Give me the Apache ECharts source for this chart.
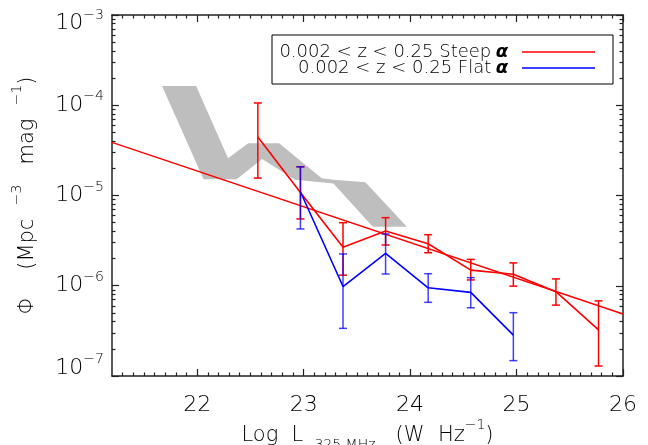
<!DOCTYPE html>
<html>
<head>
<meta charset="utf-8">
<script src="https://cdn.jsdelivr.net/npm/echarts@6/dist/echarts.min.js"></script>
<style>
html,body{margin:0;padding:0;background:#fff;}
#chart{width:648px;height:445px;}
</style>
</head>
<body>
<div id="chart"></div>
<script>
// ---- data ----
const steepName = '0.002 < z < 0.25 Steep α';
const flatName = '0.002 < z < 0.25 Flat α';
const legendText = ['0.002 < z < 0.25 Steep ', '0.002 < z < 0.25 Flat '];

const steepX  = [22.57, 22.97, 23.37, 23.77, 24.17, 24.57, 24.97, 25.37, 25.77];
const steepY  = [4.45e-5, 1.08e-5, 2.67e-6, 4.05e-6, 2.92e-6, 1.49e-6, 1.34e-6, 8.6e-7, 3.24e-7];
const steepHi = [1.06e-4, 2.08e-5, 5.0e-6, 5.68e-6, 3.68e-6, 1.96e-6, 1.79e-6, 1.19e-6, 6.8e-7];
const steepLo = [1.56e-5, 5.5e-6, 1.31e-6, 2.83e-6, 2.32e-6, 1.16e-6, 9.9e-7, 6.1e-7, 1.29e-7];

const flatX  = [22.97, 23.37, 23.77, 24.17, 24.57, 24.97];
const flatY  = [1.1e-5, 9.8e-7, 2.29e-6, 9.5e-7, 8.45e-7, 2.84e-7];
const flatHi = [2.08e-5, 2.25e-6, 3.74e-6, 1.36e-6, 1.23e-6, 5.03e-7];
const flatLo = [4.26e-6, 3.37e-7, 1.35e-6, 6.55e-7, 5.7e-7, 1.48e-7];

const fitX = [21.2, 26];
const fitY = [3.87e-5, 4.86e-7];

const bandX = [21.67, 21.99, 22.29, 22.48, 22.77, 23.17, 23.28, 23.58, 23.97, 23.65, 23.28, 22.92, 22.61, 22.37, 22.06];
const bandY = [1.63e-4, 1.63e-4, 2.58e-5, 3.79e-5, 3.79e-5, 1.55e-5, 1.49e-5, 1.40e-5, 4.51e-6, 4.51e-6, 1.36e-5, 1.49e-5, 2.54e-5, 1.51e-5, 1.51e-5];

const xMajor = [22, 23, 24, 25, 26];
const yMajorExp = [-7, -6, -5, -4, -3];

// tick helpers (axis decoration only)
const xMinor = [];
for (let v = 213; v <= 259; v++) if (v % 10 !== 0) xMinor.push(v / 10);
const yMinor = [];
for (let e = -7; e <= -4; e++) for (let k = 2; k <= 9; k++) yMinor.push(Math.log10(k) + e);

const FONT = 'DejaVu Sans';
const FW = 200;
const AXC = '#222';

function errRender(color, opacity) {
  return function (params, api) {
    const x = api.value(0), lo = api.value(1), hi = api.value(2);
    const p1 = api.coord([x, hi]);
    const p2 = api.coord([x, lo]);
    const w = 4;
    const st = {stroke: color, lineWidth: 1.5, opacity: opacity};
    return {type: 'group', children: [
      {type: 'line', shape: {x1: p1[0], y1: p1[1], x2: p2[0], y2: p2[1]}, style: st},
      {type: 'line', shape: {x1: p1[0] - w, y1: p1[1], x2: p1[0] + w, y2: p1[1]}, style: st},
      {type: 'line', shape: {x1: p2[0] - w, y1: p2[1], x2: p2[0] + w, y2: p2[1]}, style: st}
    ]};
  };
}

function tok(size, lh, pad) {
  return {fontSize: size, lineHeight: lh, padding: pad, fontFamily: FONT, fontWeight: FW, color: '#000'};
}
// token with explicit inner height; every title token totals 30px
function ttok(size, h, pad) {
  return {fontSize: size, height: h, lineHeight: 30, padding: pad, fontFamily: FONT, fontWeight: FW, color: '#000'};
}
const titleRich = {
  n: ttok(21, 22, [4, 0, 4, 0]),
  s: ttok(14, 8, [0, 0, 22, 0]),
  sub: ttok(14, 12, [18, 0, 0, 0])
};

const chart = echarts.init(document.getElementById('chart'), null, {renderer: 'canvas'});
const option = {
  animation: false,
  backgroundColor: '#fff',
  textStyle: {fontFamily: FONT, color: '#000', fontWeight: FW},
  grid: {left: 112, right: 25, top: 15, bottom: 69, containLabel: false, outerBoundsMode: 'none'},
  legend: {
    data: [steepName, flatName],
    orient: 'vertical',
    align: 'right',
    left: 272, top: 35,
    padding: [8, 18, 7, 7],
    itemGap: -2,
    itemWidth: 73, itemHeight: 1.5,
    icon: 'rect',
    borderColor: '#000', borderWidth: 1,
    backgroundColor: '#fff',
    formatter: function (name) {
      const t = name === steepName ? legendText[0] : legendText[1];
      return '{t|' + t + '}{a|α}';
    },
    textStyle: {
      fontFamily: FONT, fontSize: 18, color: '#000', fontWeight: FW,
      rich: {
        t: {align: 'right', width: 218, fontSize: 18, lineHeight: 19, fontFamily: FONT, fontWeight: FW, color: '#000'},
        a: {align: 'right', width: 11, padding: [0, 9, 0, 0], fontSize: 18, lineHeight: 19, fontWeight: 'bold', fontStyle: 'italic', fontFamily: FONT, color: '#000'}
      }
    }
  },
  xAxis: [
    {
      type: 'value', min: 21.2, max: 26, position: 'bottom',
      axisLine: {show: true, lineStyle: {color: AXC, width: 1.5}},
      axisTick: {show: true, inside: true, length: 7, customValues: xMajor, lineStyle: {color: AXC, width: 1.2}},
      axisLabel: {show: true, customValues: xMajor, margin: 18, fontSize: 22, fontFamily: FONT, fontWeight: FW, color: '#000'},
      splitLine: {show: false},
      name: '{n|Log  L }{sub| 325 MHz}{n|   (W  Hz}{s|−1}{n|)}',
      nameLocation: 'middle', nameGap: 45, nameMoveOverlap: false,
      nameTextStyle: {rich: titleRich}
    },
    {
      type: 'value', min: 21.2, max: 26, position: 'bottom',
      axisLine: {show: false},
      axisTick: {show: true, inside: true, length: 3.5, customValues: xMinor, lineStyle: {color: AXC, width: 1.2}},
      axisLabel: {show: false}, splitLine: {show: false}
    },
    {
      type: 'value', min: 21.2, max: 26, position: 'top',
      axisLine: {show: true, lineStyle: {color: AXC, width: 1.5}},
      axisTick: {show: true, inside: true, length: 7, customValues: xMajor, lineStyle: {color: AXC, width: 1.2}},
      axisLabel: {show: false}, splitLine: {show: false}
    },
    {
      type: 'value', min: 21.2, max: 26, position: 'top',
      axisLine: {show: false},
      axisTick: {show: true, inside: true, length: 3.5, customValues: xMinor, lineStyle: {color: AXC, width: 1.2}},
      axisLabel: {show: false}, splitLine: {show: false}
    }
  ],
  yAxis: [
    {
      type: 'log', logBase: 10, min: 1e-7, max: 1e-3, position: 'left',
      axisLine: {show: true, lineStyle: {color: AXC, width: 1.5}},
      axisTick: {show: true, inside: true, length: 7, lineStyle: {color: AXC, width: 1.2}},
      axisLabel: {
        show: true, margin: 8,
        formatter: function (v) {
          const e = Math.round(Math.log10(v));
          const es = '−' + Math.abs(e);
          if (e === yMajorExp[yMajorExp.length - 1]) return '{bt|10}{st|' + es + '}';
          if (e === yMajorExp[0]) return '{bb|10}{sb|' + es + '}';
          return '{b|10}{s|' + es + '}';
        },
        rich: {
          b: tok(22, 31, [0, 0, 0, 0]),
          s: tok(14, 14, [0, 0, 17, 0]),
          bt: tok(22, 31, [17, 0, 0, 0]),
          st: tok(14, 14, [17, 0, 17, 0]),
          bb: tok(22, 31, [0, 0, 16, 0]),
          sb: tok(14, 14, [0, 0, 33, 0])
        }
      },
      splitLine: {show: false}, minorTick: {show: false},
      name: '{n|Φ    (Mpc  }{s|−3}{n|   mag  }{s|−1}{n|)}',
      nameLocation: 'middle', nameGap: 69, nameRotate: 90,
      nameTextStyle: {rich: titleRich}
    },
    {
      type: 'value', min: -7, max: -3, position: 'left',
      axisLine: {show: false},
      axisTick: {show: true, inside: true, length: 3.5, customValues: yMinor, lineStyle: {color: AXC, width: 1.2}},
      axisLabel: {show: false}, splitLine: {show: false}
    },
    {
      type: 'value', min: -7, max: -3, position: 'right',
      axisLine: {show: true, lineStyle: {color: AXC, width: 1.5}},
      axisTick: {show: true, inside: true, length: 7, customValues: yMajorExp, lineStyle: {color: AXC, width: 1.2}},
      axisLabel: {show: false}, splitLine: {show: false}
    },
    {
      type: 'value', min: -7, max: -3, position: 'right',
      axisLine: {show: false},
      axisTick: {show: true, inside: true, length: 3.5, customValues: yMinor, lineStyle: {color: AXC, width: 1.2}},
      axisLabel: {show: false}, splitLine: {show: false}
    }
  ],
  series: [
    {
      name: 'band', type: 'custom', z: 1,
      data: bandX.map((x, i) => [x, bandY[i]]),
      encode: {x: 0, y: 1},
      renderItem: function (params, api) {
        if (params.dataIndex !== 0) return null;
        const pts = bandX.map((x, i) => api.coord([x, bandY[i]]));
        return {type: 'polygon', shape: {points: pts}, style: {fill: '#bebebe', stroke: null}};
      },
      silent: true
    },
    {
      name: 'fit', type: 'line', z: 3, symbol: 'none', showSymbol: false,
      data: fitX.map((x, i) => [x, fitY[i]]),
      lineStyle: {color: '#ff0000', width: 1.4}, itemStyle: {color: '#ff0000'}
    },
    {
      name: steepName, type: 'line', z: 4, symbol: 'none', showSymbol: false,
      data: steepX.map((x, i) => [x, steepY[i]]),
      lineStyle: {color: '#ff0000', width: 1.6}, itemStyle: {color: '#ff0000'}, color: '#ff0000'
    },
    {
      name: flatName, type: 'line', z: 4, symbol: 'none', showSymbol: false,
      data: flatX.map((x, i) => [x, flatY[i]]),
      lineStyle: {color: '#0000ff', width: 1.6}, itemStyle: {color: '#0000ff'}, color: '#0000ff'
    },
    {
      name: 'steepErr', type: 'custom', z: 5,
      data: steepX.map((x, i) => [x, steepLo[i], steepHi[i]]),
      encode: {x: 0, y: [1, 2]},
      renderItem: errRender('#ff0000', 1)
    },
    {
      name: 'flatErr', type: 'custom', z: 6,
      data: flatX.map((x, i) => [x, flatLo[i], flatHi[i]]),
      encode: {x: 0, y: [1, 2]},
      renderItem: errRender('#0000ff', 0.75)
    }
  ]
};
chart.setOption(option);
</script>
</body>
</html>
